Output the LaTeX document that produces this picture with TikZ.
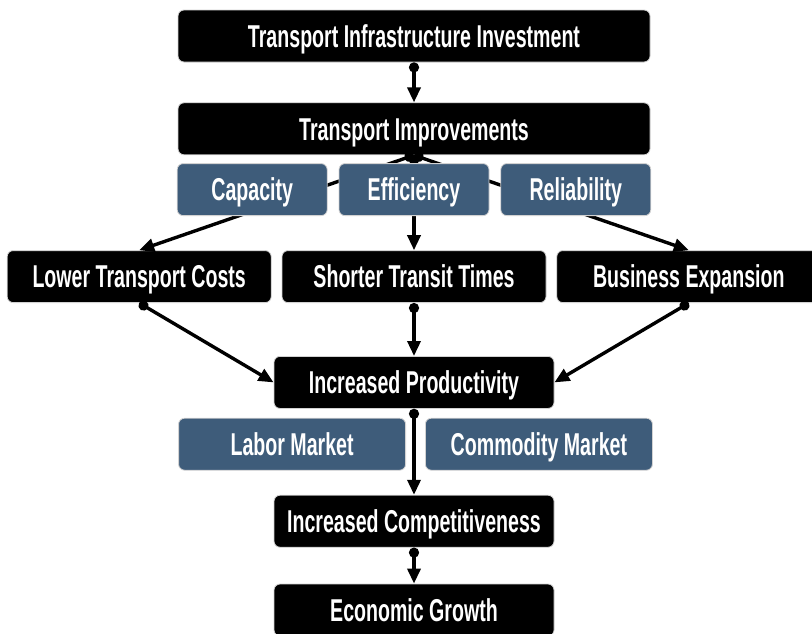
\documentclass[tikz,border=0pt]{standalone}
\usepackage{fontspec}
\newfontfamily\boxfont{Liberation Sans}[FakeStretch=0.62]
\usetikzlibrary{positioning}
\usetikzlibrary{arrows.meta}

\definecolor{slateblue}{RGB}{62,92,122}

\tikzset{
  box/.style={rounded corners=3pt, draw=gray!35, line width=0.4pt, text=white,
    align=center, minimum height=26pt, inner sep=0pt, text height=11.2pt, text depth=0pt,
    font=\boxfont\bfseries\fontsize{15.8}{18}\selectfont},
  blackbox/.style={box, fill=black},
  bluebox/.style={box, fill=slateblue, minimum width=75pt},
  link/.style={line width=1.7pt, {Circle[length=5pt]}-{Triangle[length=7.5pt,width=6.5pt]}},
}

\begin{document}
\begin{tikzpicture}
        \useasboundingbox (0,0) rectangle (406pt,-316.5pt);

        % Nodes
        \node[blackbox, minimum width=236pt] (invest) at (207pt,-18pt) {Transport Infrastructure Investment};
        \node[blackbox, minimum width=236pt, below=20pt of invest] (improve) {Transport Improvements};

        \node[blackbox, minimum width=132pt, below=47.5pt of improve] (shorter) {Shorter Transit Times};
        \node[blackbox, minimum width=132pt, left=5pt of shorter] (lower) {Lower Transport Costs};
        \node[blackbox, minimum width=132pt, right=5pt of shorter] (business) {Business Expansion};

        \node[blackbox, minimum width=140pt, below=26.5pt of shorter] (produce) {Increased Productivity};
        \node[blackbox, minimum width=140pt, below=43pt of produce] (compete) {Increased Competitiveness};
        \node[blackbox, minimum width=140pt, below=18pt of compete] (growth) {Economic Growth};

        % Edges
        \draw[link] (invest) -- (improve);
        \draw[link] (improve.south) -- (lower.north);
        \draw[link] (improve.south) -- (shorter.north);
        \draw[link] (improve.south) -- (business.north);
        \draw[link] (lower.south) -- (produce.west);
        \draw[link] (shorter) -- (produce);
        \draw[link] (business.south) -- (produce.east);
        \draw[link] (produce) -- (compete);
        \draw[link] (compete) -- (growth);

        % Blue labels (on top of the edges)
        \node[bluebox, below=4pt of improve] (efficiency) {Efficiency};
        \node[bluebox, left=5.5pt of efficiency] (capacity) {Capacity};
        \node[bluebox, right=5.5pt of efficiency] (reliability) {Reliability};

        \node[bluebox, minimum width=113.5pt, below left=4.5pt and 4pt of produce.south] (labor) {Labor Market};
        \node[bluebox, minimum width=113.5pt, below right=4.5pt and 5.5pt of produce.south] (commodity) {Commodity Market};
\end{tikzpicture}
\end{document}
